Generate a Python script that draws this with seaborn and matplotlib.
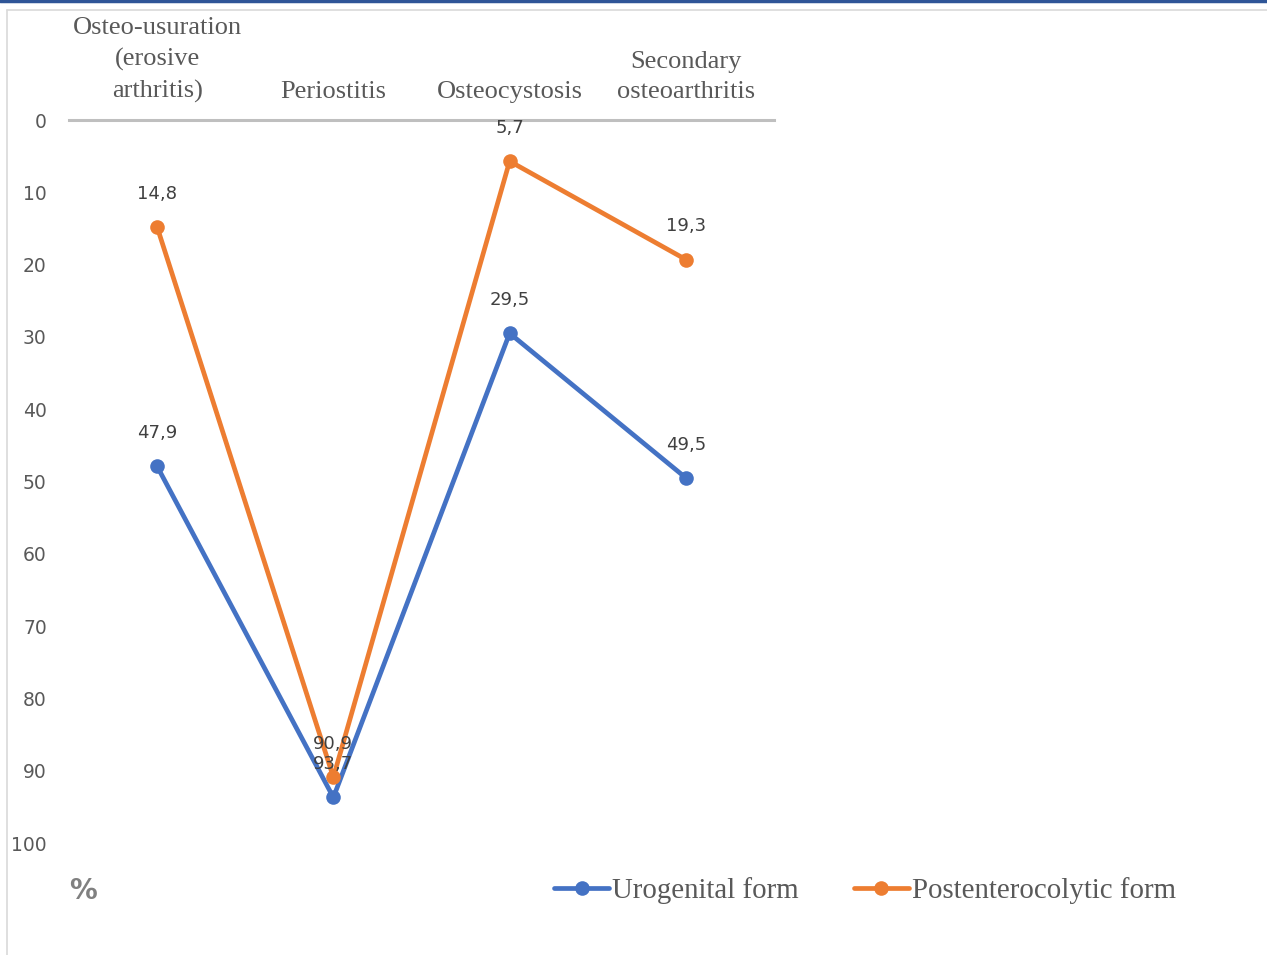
import matplotlib
matplotlib.use("Agg")
import matplotlib.pyplot as plt
from matplotlib.lines import Line2D
import seaborn as sns
import pandas as pd

categories = ["Osteo-usuration\n(erosive\narthritis)", "Periostitis", "Osteocystosis", "Secondary\nosteoarthritis"]
urogenital = [47.9, 93.7, 29.5, 49.5]
postentero = [14.8, 90.9, 5.7, 19.3]
series_names = ["Urogenital form", "Postenterocolytic form"]
y_ticks = [0, 10, 20, 30, 40, 50, 60, 70, 80, 90, 100]

df = pd.DataFrame({
    "category": categories * 2,
    "value": urogenital + postentero,
    "series": [series_names[0]] * 4 + [series_names[1]] * 4,
})

sns.set_theme(style="white")
plt.rcParams["font.family"] = ["DejaVu Sans"]

W, H = 1267, 955
fig = plt.figure(figsize=(W / 100, H / 100), dpi=100)
ax = fig.add_axes([69 / W, 1 - 843 / H, (774 - 69) / W, (843 - 120) / H])

palette = {series_names[0]: "#4472C4", series_names[1]: "#ED7D31"}
sns.lineplot(data=df, x="category", y="value", hue="series", palette=palette,
             marker="o", markersize=10.5, markeredgewidth=0, linewidth=3.4,
             sort=False, ax=ax, legend=False)

ax.set_xlim(-0.5, 3.5)
ax.set_ylim(100, 0)
ax.set_yticks(y_ticks)
ax.set_yticklabels([str(t) for t in y_ticks])
ax.set_xlabel("")
ax.set_ylabel("")
ax.xaxis.tick_top()
ax.tick_params(axis="x", length=0, pad=12, labelsize=19, colors="#595959")
ax.tick_params(axis="y", length=0, pad=16, labelsize=13.5, colors="#595959")
for lab in ax.get_xticklabels():
    lab.set_family("Liberation Serif")
    lab.set_linespacing(1.5)
for s in ["left", "right", "bottom"]:
    ax.spines[s].set_visible(False)
ax.spines["top"].set_color("#BFBFBF")
ax.spines["top"].set_linewidth(2.2)
ax.grid(False)

# data labels
for vals in (urogenital, postentero):
    for i, v in enumerate(vals):
        ax.annotate(f"{v:.1f}".replace(".", ","), (i, v), xytext=(0, 24),
                    textcoords="offset points", ha="center", va="center",
                    fontsize=13, color="#404040")

# % label
fig.text(83 / W, 1 - 891 / H, "%", ha="center", va="center", fontsize=20,
         fontweight="bold", color="#808080")

# legend
handles = [Line2D([], [], color=palette[n], marker="o", markersize=10.5,
                  markeredgewidth=0, linewidth=3.4) for n in series_names]
fig.legend(handles, series_names, loc="center", bbox_to_anchor=(865 / W, 1 - 891 / H),
           ncol=2, frameon=False, prop={"family": "Liberation Serif", "size": 20.8},
           labelcolor="#595959", handlelength=1.9, handletextpad=0.1, columnspacing=1.9)

# frame decorations
fig.add_artist(Line2D([0, 1], [1 - 1.5 / H, 1 - 1.5 / H], transform=fig.transFigure,
                      color="#2F5597", linewidth=2.5))
fig.add_artist(Line2D([7 / W, 1], [1 - 10 / H, 1 - 10 / H], transform=fig.transFigure,
                      color="#D9D9D9", linewidth=1.2))
fig.add_artist(Line2D([7 / W, 7 / W], [0, 1 - 10 / H], transform=fig.transFigure,
                      color="#D9D9D9", linewidth=1.2))

fig.savefig("out.png", dpi=100)
